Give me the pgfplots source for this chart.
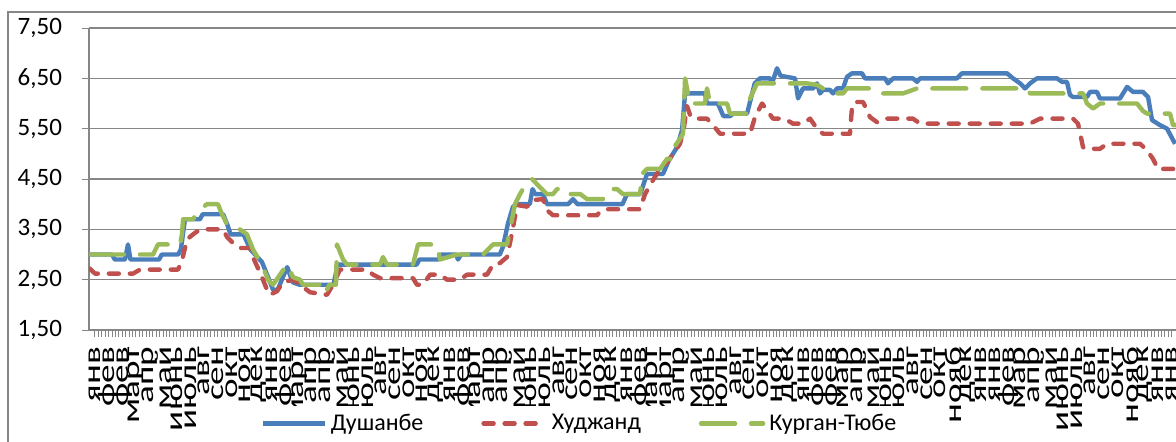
\documentclass[border=0pt]{standalone}
\usepackage{fontspec}
\setmainfont{Carlito}
\usepackage{pgfplots}
\pgfplotsset{compat=1.18}
\definecolor{cblue}{HTML}{4A7EBB}
\definecolor{cred}{HTML}{C0504D}
\definecolor{cgreen}{HTML}{9BBB59}
\definecolor{axgray}{HTML}{868686}
\begin{document}
\begin{tikzpicture}
\useasboundingbox (0,0) rectangle (588pt,220.5pt);
\draw[axgray, line width=0.8pt] (4pt,-5pt) -- (4pt,214.5pt) -- (600pt,214.5pt);
\begin{axis}[
  scale only axis, width=543.5pt, height=151pt,
  at={(44.5pt,55.5pt)}, anchor=south west,
  xmin=-0.44, xmax=79.31, ymin=1.5, ymax=7.5,
  axis x line*=bottom, axis y line*=left,
  axis line style={-, draw=axgray, line width=0.7pt},
  ytick={1.5,2.5,3.5,4.5,5.5,6.5,7.5},
  ymajorgrids, grid style={axgray, line width=0.7pt},
  xtick={0,...,79},
  minor x tick num=3,
  xticklabels={янв,фев,фев,март,апр,май,июнь,июль,авг,сен,окт,ноя,дек,янв,фев,март,апр,апр,май,июнь,июль,авг,сен,окт,ноя,дек,янв,фев,март,апр,апр,май,июнь,июль,авг,сен,окт,ноя,дек,янв,фев,март,март,апр,май,июнь,июль,авг,сен,окт,ноя,дек,янв,фев,фев,мар,апр,май,июнь,июль,авг,сен,окт,нояб,дек,янв,янв,фев,мар,апр,май,июнь,июль,авг,сен,окт,нояб,дек,янв,янв},
  tick align=outside, major tick length=3.5pt, minor tick length=3.5pt,
  tick style={axgray, line width=0.5pt},
  xticklabel shift=3pt,
  xticklabel style={rotate=90, xscale=1.55, anchor=east, inner sep=1pt, font=\fontsize{12}{13}\selectfont},
  yticklabel style={font=\fontsize{12.5}{14}\selectfont, xshift=-6.5pt,
    /pgf/number format/fixed, /pgf/number format/fixed zerofill,
    /pgf/number format/precision=2, /pgf/number format/use comma,
    /pgf/number format/assume math mode=true},
  legend columns=3,
  legend style={draw=none, at={(0.452,-0.31)}, anchor=center,
    font=\fontsize{12}{14}\selectfont,
    /tikz/every even column/.append style={column sep=27pt}},
  legend image code/.code={\draw[#1] (0pt,0pt) -- (31pt,0pt);},
  every axis plot/.append style={no markers, line width=2.2pt, line join=round},
]
\addplot[cblue] coordinates {
(-0.37,3.0) (1.25,3.0) (1.45,2.9) (2.2,2.9) (2.42,3.2) (2.6,2.9) (4.7,2.9) (4.9,3.0) (6.1,3.0) (6.3,3.1) (6.6,3.7) (7.7,3.7) (7.9,3.8) (9.4,3.8) (9.7,3.6) (9.95,3.4) (10.9,3.4) (11.4,3.1) (12.25,2.85) (12.7,2.55) (13.06,2.3) (13.4,2.3) (14.1,2.75) (14.5,2.45) (15.0,2.4) (17.5,2.4) (17.8,2.8) (23.6,2.8) (23.8,2.9) (25.2,2.9) (25.4,3.0) (26.5,3.0) (26.63,2.9) (26.85,3.0) (29.7,3.0) (29.93,3.15) (30.3,3.62) (30.67,3.95) (31.03,4.0) (31.9,4.0) (32.1,4.3) (32.3,4.2) (32.87,4.2) (33.16,4.0) (34.7,4.0) (35.07,4.1) (35.4,4.0) (38.7,4.0) (39.03,4.2) (40.0,4.2) (40.5,4.6) (41.67,4.6) (42.1,4.87) (42.7,5.13) (43.07,5.47) (43.29,6.2) (44.75,6.2) (44.9,6.0) (45.7,6.0) (46.1,5.75) (46.6,5.75) (46.81,5.8) (47.84,5.8) (48.4,6.4) (48.79,6.5) (49.52,6.5) (49.67,6.4) (50.04,6.7) (50.3,6.55) (51.36,6.5) (51.58,6.1) (51.94,6.3) (52.68,6.3) (52.97,6.4) (53.19,6.2) (53.41,6.27) (53.93,6.27) (54.15,6.2) (54.44,6.3) (54.88,6.3) (55.17,6.53) (55.54,6.6) (56.27,6.6) (56.49,6.5) (57.96,6.5) (58.18,6.4) (58.55,6.5) (60.01,6.5) (60.31,6.43) (60.53,6.5) (63.24,6.5) (63.61,6.6) (66.91,6.6) (67.35,6.5) (67.87,6.4) (68.23,6.3) (68.6,6.4) (69.11,6.5) (70.58,6.5) (70.95,6.43) (71.31,6.43) (71.53,6.17) (71.75,6.13) (72.78,6.13) (73.0,6.23) (73.51,6.23) (73.73,6.1) (75.2,6.1) (75.72,6.33) (76.16,6.23) (76.89,6.23) (77.26,6.13) (77.55,5.67) (78.14,5.57) (78.65,5.5) (79.24,5.2)
};
\addlegendentry{Душанбе}
\addplot[cred, line cap=round, dash pattern=on 5pt off 5.5pt] coordinates {
(-0.37,2.72) (0.0,2.62) (2.79,2.62) (3.3,2.7) (6.09,2.7) (6.4,2.9) (6.75,3.3) (7.19,3.4) (7.7,3.5) (9.39,3.5) (9.68,3.35) (10.12,3.23) (10.64,3.13) (11.37,3.13) (11.59,2.95) (12.25,2.55) (12.62,2.3) (12.84,2.2) (13.35,2.27) (13.79,2.45) (14.53,2.5) (15.04,2.4) (15.77,2.25) (17.02,2.2) (17.46,2.4) (17.97,2.7) (19.96,2.7) (20.4,2.6) (20.91,2.53) (23.33,2.53) (23.62,2.4) (24.06,2.4) (24.58,2.6) (25.31,2.6) (25.83,2.5) (26.78,2.5) (27.29,2.6) (28.76,2.6) (29.2,2.8) (29.71,2.83) (30.23,2.95) (30.59,3.42) (30.81,3.75) (31.03,3.98) (31.7,3.95) (32.06,4.08) (32.87,4.1) (33.16,3.88) (33.6,3.78) (36.83,3.78) (37.05,3.85) (37.56,3.9) (39.99,3.9) (40.35,4.2) (40.94,4.48) (41.45,4.7) (41.97,4.83) (42.41,5.0) (42.92,5.2) (43.2,5.5) (43.43,5.95) (43.65,5.78) (43.87,5.7) (44.9,5.7) (45.34,5.57) (45.85,5.4) (48.06,5.4) (48.42,5.73) (48.94,6.0) (49.74,5.7) (50.26,5.7) (50.77,5.67) (51.21,5.6) (51.94,5.6) (52.46,5.7) (52.97,5.5) (53.41,5.4) (55.39,5.4) (55.54,5.93) (55.76,6.03) (56.35,6.03) (56.86,5.73) (57.37,5.63) (58.11,5.7) (60.01,5.7) (60.53,5.6) (68.6,5.6) (69.33,5.7) (71.75,5.7) (72.12,5.6) (72.49,5.13) (72.78,5.1) (73.73,5.1) (74.25,5.2) (76.67,5.2) (77.18,5.07) (77.62,4.9) (77.99,4.7) (79.4,4.7)
};
\addlegendentry{Худжанд}
\addplot[cgreen, line cap=round, dash pattern=on 17pt off 8pt] coordinates {
(-0.37,3.0) (4.26,3.0) (4.62,3.2) (6.24,3.2) (6.38,3.4) (6.46,3.7) (7.19,3.7) (7.56,3.85) (8.2,4.0) (9.02,4.0) (9.32,3.8) (9.68,3.6) (10.05,3.6) (10.9,3.45) (11.15,3.4) (11.59,3.1) (12.25,2.8) (12.69,2.5) (13.06,2.4) (14.09,2.8) (14.53,2.55) (15.04,2.5) (15.26,2.4) (16.51,2.4) (16.87,2.22) (17.2,2.4) (17.68,2.4) (17.75,3.2) (18.2,2.9) (18.49,2.8) (20.91,2.8) (21.13,2.95) (21.42,2.8) (23.33,2.8) (23.7,3.2) (25.09,3.2) (25.31,2.9) (26.56,3.0) (28.47,3.0) (29.2,3.2) (30.23,3.2) (30.45,3.5) (30.81,4.0) (31.18,4.2) (31.77,4.47) (32.06,4.5) (32.6,4.35) (33.16,4.2) (33.6,4.2) (33.9,4.3) (34.63,4.3) (34.85,4.2) (35.6,4.2) (36.1,4.1) (37.27,4.1) (37.78,4.3) (38.3,4.3) (38.74,4.2) (39.99,4.2) (40.13,4.6) (40.5,4.7) (41.45,4.7) (41.97,4.9) (42.33,4.9) (42.41,5.1) (42.92,5.3) (43.14,5.4) (43.29,6.5) (43.65,6.0) (44.75,6.0) (44.9,6.3) (45.12,6.0) (46.37,6.0) (46.59,5.8) (47.84,5.8) (48.06,6.1) (48.57,6.4) (52.24,6.4) (52.97,6.37) (53.41,6.3) (53.93,6.2) (54.88,6.2) (55.17,6.3) (56.86,6.3) (57.37,6.2) (59.28,6.2) (60.31,6.3) (68.38,6.3) (68.6,6.2) (72.49,6.2) (72.78,6.0) (73.22,5.9) (73.73,6.0) (76.45,6.0) (76.89,5.85) (77.18,5.8) (78.87,5.8) (79.09,5.57) (79.4,5.57)
};
\addlegendentry{Курган-Тюбе}
\end{axis}
\end{tikzpicture}
\end{document}
